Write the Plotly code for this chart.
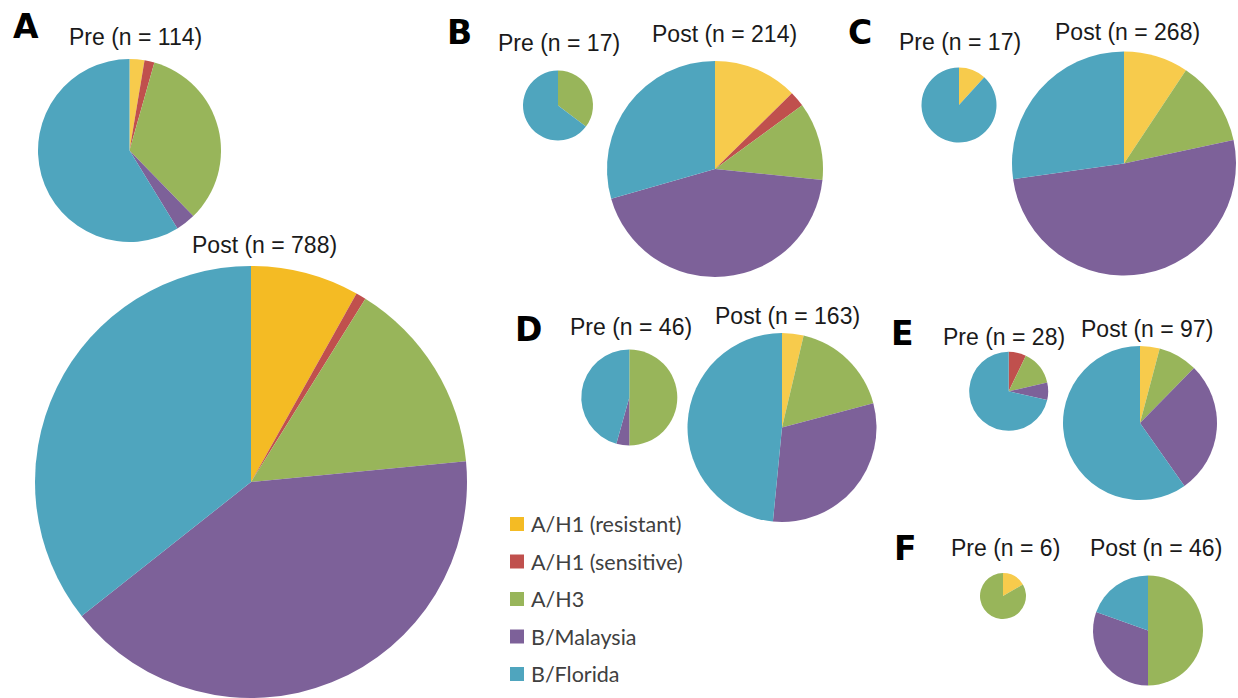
import plotly.graph_objects as go

# Influenza subtype counts before ("Pre") and after ("Post") for each panel
SUBTYPES = ["A/H1 (resistant)", "A/H1 (sensitive)", "A/H3", "B/Malaysia", "B/Florida"]

A_PRE = [3, 2, 38, 4, 67]
A_POST = [64, 6, 115, 322, 281]
B_PRE = [0, 0, 6, 0, 11]
B_POST = [27, 5, 25, 94, 63]
C_PRE = [2, 0, 0, 0, 15]
C_POST = [25, 0, 33, 137, 73]
D_PRE = [0, 0, 23, 2, 21]
D_POST = [6, 0, 28, 50, 79]
E_PRE = [0, 2, 4, 2, 20]
E_POST = [4, 0, 8, 27, 58]
F_PRE = [1, 0, 5, 0, 0]
F_POST = [0, 0, 23, 14, 9]

PANELS = ["A", "B", "C", "D", "E", "F"]

W, H = 1238, 698

COLORS = ["#F7CB4C", "#C0504D", "#98B55A", "#7D6199", "#4FA5BE"]
COLORS_STRONG = ["#F4BB24", "#C0504D", "#98B55A", "#7D6199", "#4FA5BE"]

# (series, pie centre x, centre y, radius in px, title centre x, title centre y, palette)
pies = [
    (A_PRE, 129.5, 150.5, 91.5, 135, 37, COLORS),
    (A_POST, 251, 482, 216, 264, 245, COLORS_STRONG),
    (B_PRE, 558, 105.5, 35, 559, 43, COLORS),
    (B_POST, 715, 169, 108, 724, 34, COLORS),
    (C_PRE, 959, 105, 37.5, 959.5, 42, COLORS),
    (C_POST, 1124, 163.5, 112, 1127, 32, COLORS),
    (D_PRE, 629.3, 397.5, 48, 630.5, 327, COLORS),
    (D_POST, 782, 427.5, 94.5, 787, 316, COLORS),
    (E_PRE, 1008.7, 391.3, 39.5, 1004, 337, COLORS),
    (E_POST, 1140, 423, 77, 1147, 329, COLORS),
    (F_PRE, 1003, 596, 23, 1005, 548, COLORS),
    (F_POST, 1148, 630.5, 55, 1156, 548, COLORS),
]
pie_titles = ["Pre", "Post"] * 6

letter_pos = [(26, 26), (460, 32), (860, 32), (528, 329), (902, 333), (905, 548)]

fig = go.Figure()
annotations = []
shapes = []

for (vals, cx, cy, r, tx, ty, pal), name in zip(pies, pie_titles):
    x0 = max(0.0, (cx - r) / W)
    x1 = min(1.0, (cx + r) / W)
    y0 = max(0.0, 1 - (cy + r) / H)
    y1 = min(1.0, 1 - (cy - r) / H)
    fig.add_trace(go.Pie(
        labels=SUBTYPES,
        values=vals,
        sort=False,
        direction="clockwise",
        rotation=0,
        textinfo="none",
        hoverinfo="label+value+percent",
        marker=dict(colors=pal, line=dict(width=0)),
        domain=dict(x=[x0, x1], y=[y0, y1]),
        showlegend=False,
    ))
    annotations.append(dict(
        text=f"{name} (n = {sum(vals)})",
        x=tx / W, y=1 - ty / H, xref="paper", yref="paper",
        xanchor="center", yanchor="middle", showarrow=False,
        font=dict(family="Liberation Sans, Arial", size=23, color="#1a1a1a"),
    ))

for letter, (lx, ly) in zip(PANELS, letter_pos):
    annotations.append(dict(
        text=f"<b>{letter}</b>",
        x=lx / W, y=1 - ly / H, xref="paper", yref="paper",
        xanchor="center", yanchor="middle", showarrow=False,
        font=dict(family="DejaVu Sans", size=33, color="#000000"),
    ))

# Legend: colour swatches with subtype names
leg_x, leg_y0, leg_dy, sw = 510, 524, 37.5, 14
for i, (label, col) in enumerate(zip(SUBTYPES, COLORS_STRONG)):
    yc = leg_y0 + i * leg_dy
    shapes.append(dict(
        type="rect", xref="paper", yref="paper",
        x0=leg_x / W, x1=(leg_x + sw) / W,
        y0=1 - (yc + sw / 2) / H, y1=1 - (yc - sw / 2) / H,
        fillcolor=col, line=dict(width=0),
    ))
    annotations.append(dict(
        text=label,
        x=(leg_x + sw + 5) / W, y=1 - yc / H, xref="paper", yref="paper",
        xanchor="left", yanchor="middle", showarrow=False,
        font=dict(family="Lato", size=21.5, color="#404040"),
    ))

fig.update_layout(
    width=W, height=H,
    margin=dict(l=0, r=0, t=0, b=0),
    paper_bgcolor="white",
    plot_bgcolor="white",
    annotations=annotations,
    shapes=shapes,
    showlegend=False,
)

fig.write_html("out.html", config={"displayModeBar": False})
